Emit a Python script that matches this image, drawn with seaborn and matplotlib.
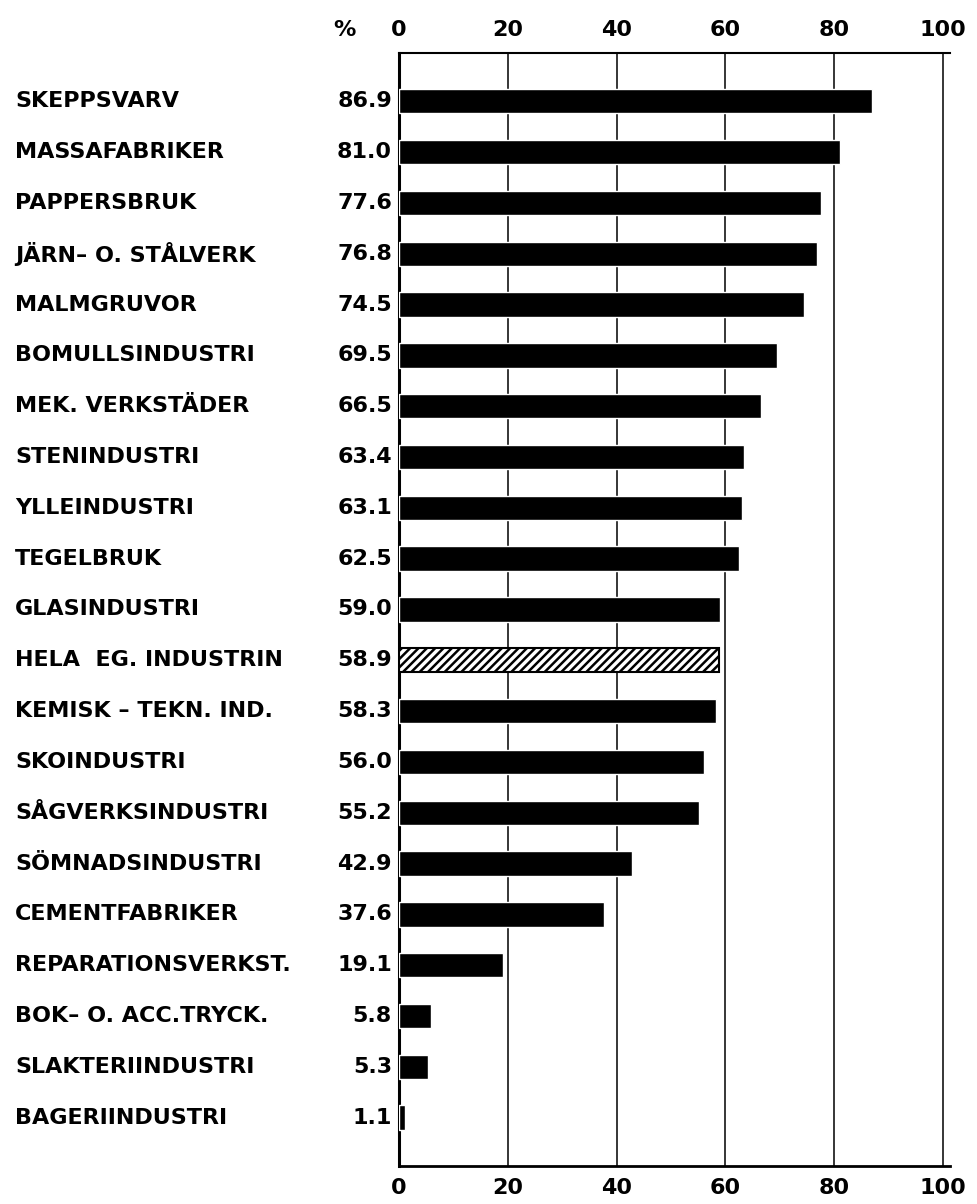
import pandas as pd
import seaborn as sns
import matplotlib.pyplot as plt
from matplotlib.transforms import blended_transform_factory

# Andel (%) per industrigren
categories = [
    "SKEPPSVARV", "MASSAFABRIKER", "PAPPERSBRUK", "JÄRN– O. STÅLVERK",
    "MALMGRUVOR", "BOMULLSINDUSTRI", "MEK. VERKSTÄDER", "STENINDUSTRI",
    "YLLEINDUSTRI", "TEGELBRUK", "GLASINDUSTRI", "HELA  EG. INDUSTRIN",
    "KEMISK – TEKN. IND.", "SKOINDUSTRI", "SÅGVERKSINDUSTRI",
    "SÖMNADSINDUSTRI", "CEMENTFABRIKER", "REPARATIONSVERKST.",
    "BOK– O. ACC.TRYCK.", "SLAKTERIINDUSTRI", "BAGERIINDUSTRI",
]
values = [86.9, 81.0, 77.6, 76.8, 74.5, 69.5, 66.5, 63.4, 63.1, 62.5, 59.0,
          58.9, 58.3, 56.0, 55.2, 42.9, 37.6, 19.1, 5.8, 5.3, 1.1]
total_label = "HELA  EG. INDUSTRIN"
xticks = [0, 20, 40, 60, 80, 100]

df = pd.DataFrame({"bransch": categories, "procent": values})

sns.set_style("white")
plt.rcParams['font.family'] = ['DejaVu Sans']
plt.rcParams['font.weight'] = 'bold'
plt.rcParams['text.color'] = 'black'
plt.rcParams['xtick.color'] = 'black'
plt.rcParams['xtick.labelcolor'] = 'black'
plt.rcParams['hatch.linewidth'] = 1.8

FS = 16

fig = plt.figure(figsize=(9.78, 12.04), dpi=100)
ax = fig.add_axes([0.408, 0.0316, 0.9714 - 0.408, 0.956 - 0.0316])

sns.barplot(data=df, x="procent", y="bransch", order=categories, orient="h",
            color="black", width=0.48, saturation=1, ax=ax, zorder=3)

# the total row is drawn hatched
idx = categories.index(total_label)
bar = ax.patches[idx]
bar.set_facecolor("white")
bar.set_edgecolor("black")
bar.set_hatch("////")
bar.set_linewidth(1.5)

ax.set_xlim(0, 101.3)
ax.set_ylim(len(categories) - 0.05, -0.95)
ax.set_xticks(xticks)
ax.set_xticklabels([str(t) for t in xticks])
ax.set_yticks([])
ax.set_xlabel("")
ax.set_ylabel("")

for t in xticks[1:]:
    ax.axvline(t, color="black", lw=1.1, zorder=1)

for side in ["left", "bottom", "top"]:
    ax.spines[side].set_visible(True)
    ax.spines[side].set_color("black")
ax.spines["left"].set_linewidth(2.2)
ax.spines["bottom"].set_linewidth(2.0)
ax.spines["top"].set_linewidth(1.5)
ax.spines["right"].set_visible(False)

ax.tick_params(axis="x", top=True, labeltop=True, bottom=True, labelbottom=True,
               length=0, labelsize=FS, pad=9)
for lab in ax.get_xticklabels():
    lab.set_fontweight("bold")

# % sign before top tick labels
ax.text(-10, 1.0207, "%", transform=blended_transform_factory(ax.transData, ax.transAxes),
        ha="center", va="center", fontsize=FS, fontweight="bold")

# category names at left, values right-aligned against the axis
name_tr = blended_transform_factory(fig.transFigure, ax.transData)
for i, (name, v) in enumerate(zip(categories, values)):
    ax.text(15 / 978, i, name, transform=name_tr, ha="left", va="center",
            fontsize=FS, fontweight="bold", clip_on=False)
    ax.text(-1.3, i, f"{v:.1f}", ha="right", va="center",
            fontsize=FS, fontweight="bold", clip_on=False)

fig.savefig("out.png", dpi=100)
